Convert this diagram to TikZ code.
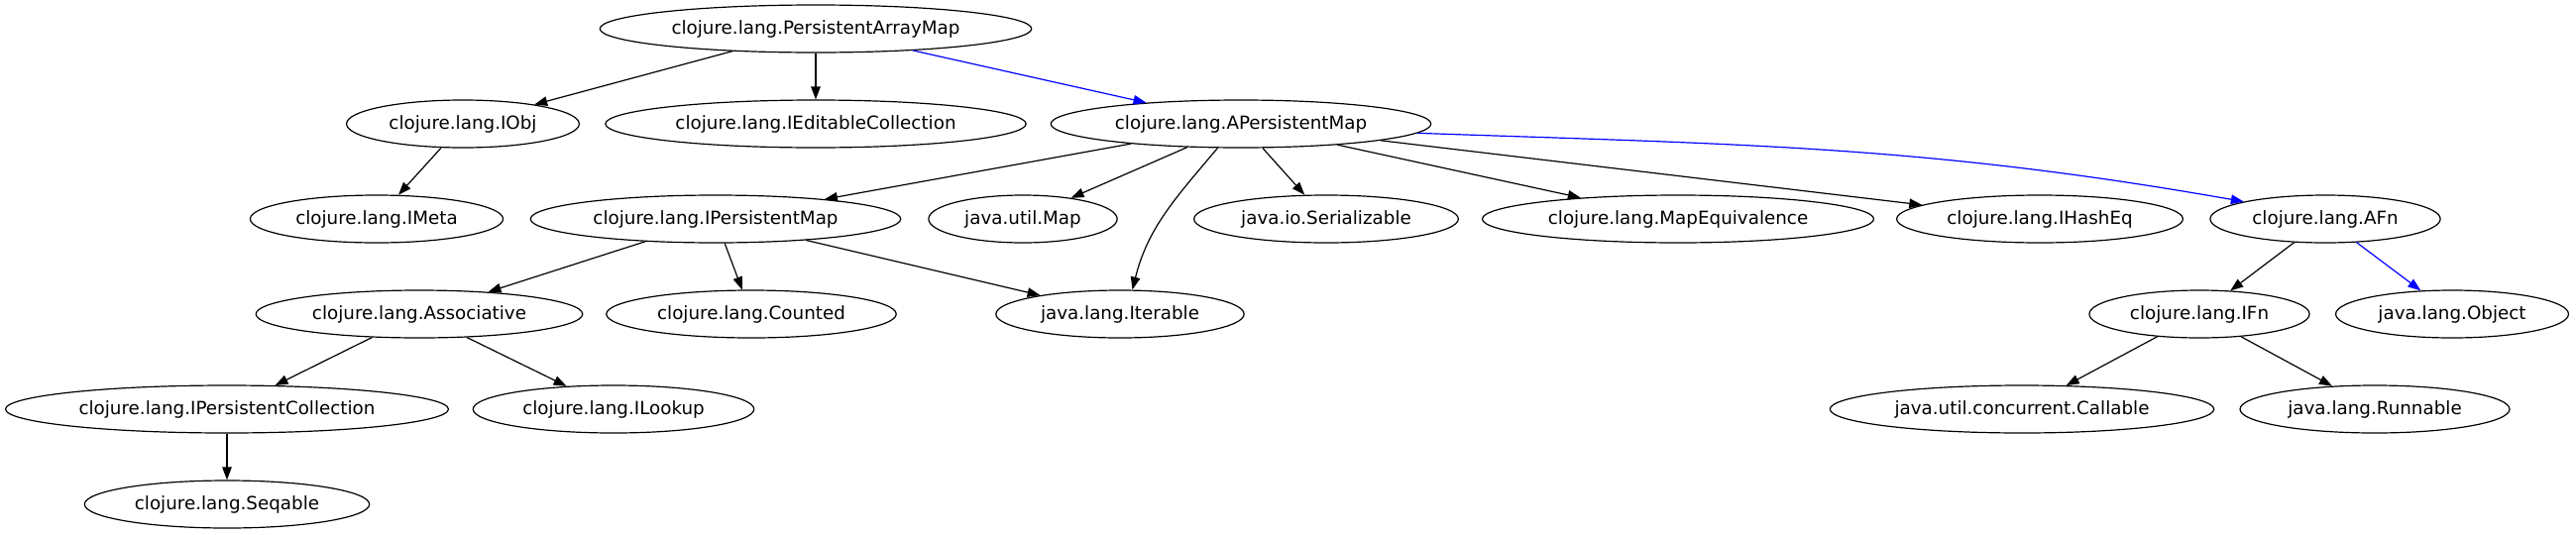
\documentclass[tikz,border=0pt]{standalone}
\usepackage{fontspec}
\setmainfont{DejaVu Sans}
\usepackage{xcolor}
\usepackage{tikz}
\usetikzlibrary{shapes.geometric,arrows.meta}

\begin{document}
\begin{tikzpicture}[x=1pt,y=-1pt,
 cls/.style={ellipse,draw,line width=1.2pt,inner xsep=8.5pt,inner ysep=0pt,
  minimum height=48pt,font=\fontsize{18.3pt}{22pt}\selectfont},
 dep/.style={-{Triangle[length=13pt,width=9.5pt]},line width=1.2pt},
 ext/.style={dep,blue}]
 \useasboundingbox (0,0) rectangle (2599,539);
 % row 1
 \node[cls] (pam) at (823,29) {clojure.lang.PersistentArrayMap};
 % row 2
 \node[cls] (iobj) at (467,125) {clojure.lang.IObj};
 \node[cls] (iedit) at (823,125) {clojure.lang.IEditableCollection};
 \node[cls] (apm) at (1252,125) {clojure.lang.APersistentMap};
 % row 3
 \node[cls] (imeta) at (380,221) {clojure.lang.IMeta};
 \node[cls] (ipm) at (722,221) {clojure.lang.IPersistentMap};
 \node[cls] (jmap) at (1032,221) {java.util.Map};
 \node[cls] (ser) at (1338,221) {java.io.Serializable};
 \node[cls] (mapeq) at (1693,221) {clojure.lang.MapEquivalence};
 \node[cls] (ihash) at (2058,221) {clojure.lang.IHashEq};
 \node[cls] (afn) at (2346,221) {clojure.lang.AFn};
 % row 4
 \node[cls] (assoc) at (423,317) {clojure.lang.Associative};
 \node[cls] (counted) at (758,317) {clojure.lang.Counted};
 \node[cls] (iter) at (1130,317) {java.lang.Iterable};
 \node[cls] (ifn) at (2219,317) {clojure.lang.IFn};
 \node[cls] (obj) at (2474,317) {java.lang.Object};
 % row 5
 \node[cls] (ipc) at (229,413) {clojure.lang.IPersistentCollection};
 \node[cls] (ilook) at (619,413) {clojure.lang.ILookup};
 \node[cls] (call) at (2040,413) {java.util.concurrent.Callable};
 \node[cls] (run) at (2396,413) {java.lang.Runnable};
 % row 6
 \node[cls] (seq) at (229,509) {clojure.lang.Seqable};

 \draw[dep] (pam) -- (iobj);
 \draw[dep] (pam) -- (iedit);
 \draw[ext] (pam) -- (apm);
 \draw[dep] (iobj) -- (imeta);
 \draw[dep] (apm) -- (ipm);
 \draw[dep] (apm) -- (jmap);
 \draw[dep] (apm.-134) to[out=-130,in=76] (iter.63);
 \draw[dep] (apm) -- (ser);
 \draw[dep] (apm) -- (mapeq);
 \draw[dep] (apm) -- (ihash);
 \draw[ext] (apm.-3) to[out=-2,in=170] (afn.168);
 \draw[dep] (ipm) -- (assoc);
 \draw[dep] (ipm) -- (counted);
 \draw[dep] (ipm) -- (iter);
 \draw[dep] (assoc) -- (ipc);
 \draw[dep] (assoc) -- (ilook);
 \draw[dep] (ipc) -- (seq);
 \draw[dep] (afn) -- (ifn);
 \draw[ext] (afn) -- (obj);
 \draw[dep] (ifn) -- (call);
 \draw[dep] (ifn) -- (run);
\end{tikzpicture}
\end{document}
